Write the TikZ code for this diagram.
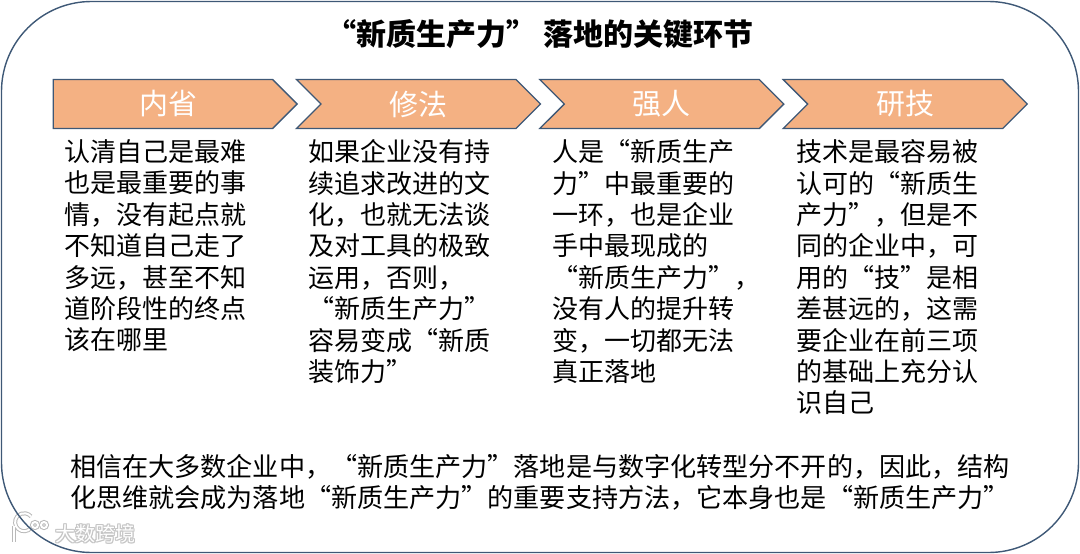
\documentclass[tikz,border=0pt]{standalone}
\usepackage{fontspec}
\usepackage{xcolor}
\setmainfont{Noto Sans CJK SC}
\usetikzlibrary{shapes.symbols, positioning}
\definecolor{frameblue}{RGB}{62,88,118}
\definecolor{stepfill}{RGB}{244,177,131}
\newcommand{\bodyfont}{\fontsize{26}{31.4}\selectfont}
\newcommand{\steplabel}[1]{\raisebox{-1pt}{#1}}

\begin{document}
\begin{tikzpicture}[
  x=1pt, y=-1pt,
  node distance=0pt and 22pt,
  stepbox/.style={signal, signal to=east, signal pointer angle=90,
                  draw=frameblue, line width=1.3pt, fill=stepfill,
                  minimum width=244pt, minimum height=49pt, inner sep=0pt,
                  text=white, font=\fontsize{29}{32}\selectfont},
  nextbox/.style={stepbox, signal from=west},
  bodytext/.style={align=left, inner sep=0pt, anchor=north west, font=\bodyfont},
  lasttext/.style={bodytext, font=\fontsize{26.1}{31}\selectfont},
  marktext/.style={inner sep=0pt, anchor=west, font=\fontsize{20}{22}\selectfont},
  logoback/.style={draw=gray!55, line width=4pt},
  logofront/.style={draw=white, line width=2pt},
]
  \useasboundingbox (0,0) rectangle (1080,554);

  % watermark goes under the frame line
  \foreach \dx/\dy in {-1/0, 1/0, 0/-1, 0/1, -1/-1, 1/1, -1/1, 1/-1} {
    \node[marktext, text=gray!45] at (55+\dx,534+\dy) {大数跨境};
  }
  \node[marktext, text=white] (mark) at (55,534) {大数跨境};
  \foreach \logostyle in {logoback, logofront} {
    \draw[\logostyle] (13.5,526) -- (13.5,542);
    \draw[\logostyle] (31,528) arc[start angle=-40, end angle=-320, radius=9pt];
    \draw[\logostyle] (35,525) circle[radius=3pt];
    \draw[\logostyle] (44,525) circle[radius=3pt];
  }

  \node[draw=frameblue, line width=1.4pt, rounded corners=90pt, minimum width=1077pt,
        minimum height=551pt, inner sep=0pt] (frame) at (540,277) {};
  \node[font=\bfseries\fontsize{30}{32}\selectfont, inner sep=0pt] (title) at (540,34)
    {“新质生产力”\hspace{0.25em}落地的关键环节};

  \node[stepbox, anchor=west] (neixing) at (52.5,104) {\hspace*{12pt}\steplabel{内省}};
  \node[nextbox, right=of neixing] (xiufa) {\steplabel{修法}};
  \node[nextbox, right=of xiufa] (qiangren) {\steplabel{强人}};
  \node[nextbox, right=of qiangren] (yanji) {\steplabel{研技}};

  \node[bodytext] (neixingtext) at (64,139.5) {认清自己是最难\\也是最重要的事\\情，没有起点就\\不知道自己走了\\多远，甚至不知\\道阶段性的终点\\该在哪里};
  \node[bodytext] (xiufatext) at (308,139.5) {如果企业没有持\\续追求改进的文\\化，也就无法谈\\及对工具的极致\\运用，否则，\\“新质生产力”\\容易变成“新质\\装饰力”};
  \node[bodytext] (qiangrentext) at (552,139.5) {人是“新质生产\\力”中最重要的\\一环，也是企业\\手中最现成的\\“新质生产力”，\\没有人的提升转\\变，一切都无法\\真正落地};
  \node[bodytext] (yanjitext) at (796,139.5) {技术是最容易被\\认可的“新质生\\产力”，但是不\\同的企业中，可\\用的“技”是相\\差甚远的，这需\\要企业在前三项\\的基础上充分认\\识自己};

  \node[lasttext] (summary) at (70,454) {相信在大多数企业中，“新质生产力”落地是与数字化转型分不开的，因此，结构\\化思维就会成为落地“新质生产力”的重要支持方法，它本身也是“新质生产力”};
\end{tikzpicture}
\end{document}
